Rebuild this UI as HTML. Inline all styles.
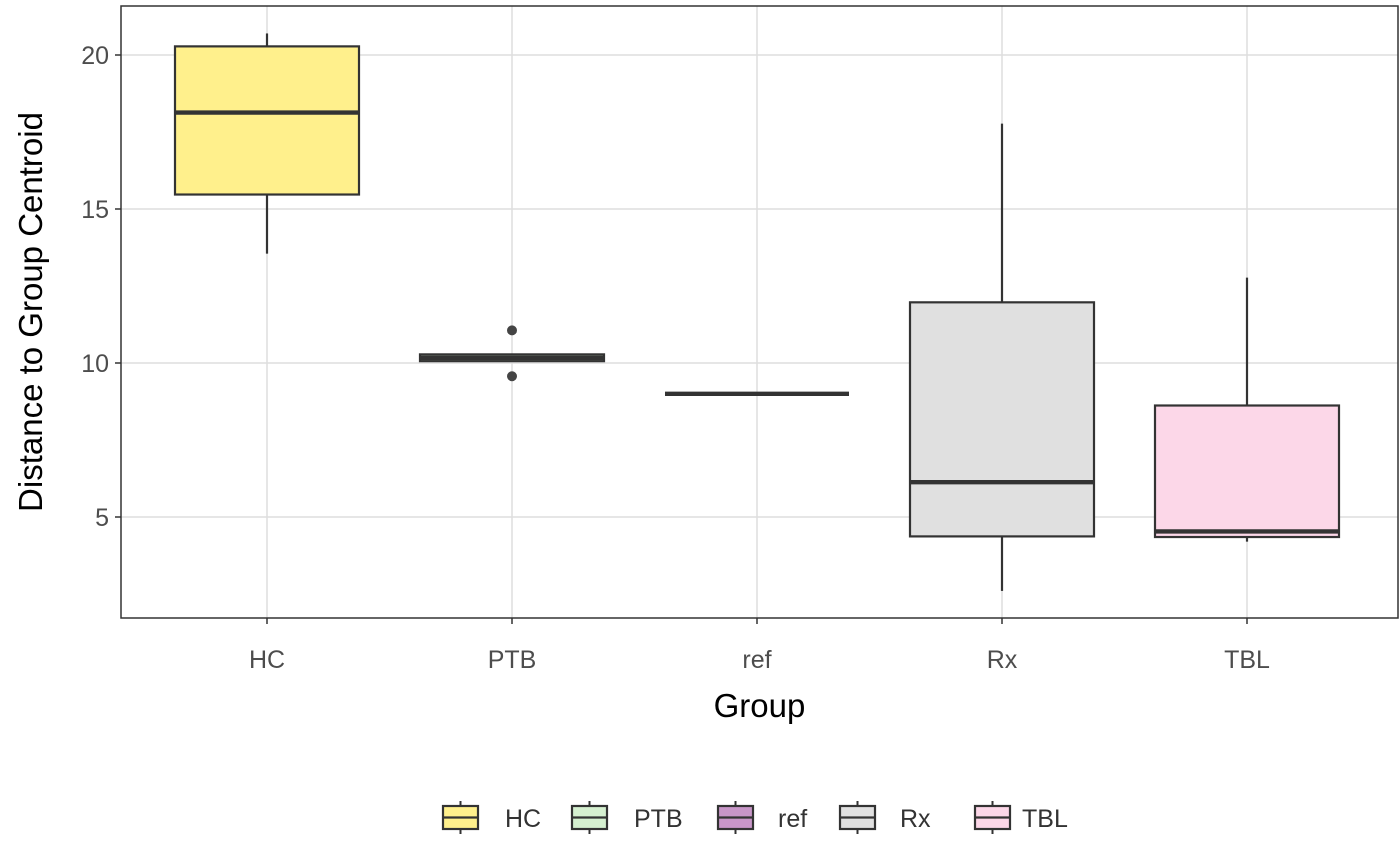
<!DOCTYPE html>
<html><head><meta charset="utf-8"><style>body{margin:0;background:#fff}svg{display:block;font-family:"Liberation Sans",Arial,sans-serif}</style></head>
<body>
<svg id="chart" width="1400" height="865" xmlns="http://www.w3.org/2000/svg"></svg>
<script>
const categories=["HC","PTB","ref","Rx","TBL"];
const colors=["#fff08c","#d5f0d0","#c896c8","#e0e0e0","#fcd7e8"];
const wLow=[13.55,10.05,9.0,2.6,4.2];
const q1=[15.47,10.06,9.0,4.37,4.35];
const med=[18.13,10.17,9.0,6.13,4.53];
const q3=[20.28,10.28,9.0,11.97,8.62];
const wHigh=[20.7,10.28,9.0,17.77,12.77];
const outliers=[[],[11.06,9.57],[],[],[]];
const yTicks=[5,10,15,20];
const legendKeyX=[443,572,718,840,975];
const legendTextX=[505,634,778,900,1022];
const NS="http://www.w3.org/2000/svg";
const svg=document.getElementById('chart');
const L=121,R=1398,T=6,B=618;
const y=v=>517-(v-5)*30.8;
const x=i=>267+i*245;
const bw=184;
function el(t,a,p){const e=document.createElementNS(NS,t);for(const k in a)e.setAttribute(k,a[k]);(p||svg).appendChild(e);return e;}
const grid=el('g',{});


yTicks.forEach(v=>el('line',{x1:L,x2:R,y1:y(v),y2:y(v),stroke:'#dedede','stroke-width':1.5},grid));
categories.forEach((c,i)=>el('line',{x1:x(i),x2:x(i),y1:T,y2:B,stroke:'#dedede','stroke-width':1.5},grid));
categories.forEach((c,i)=>{
 const g=el('g',{});
 
 
 el('line',{x1:x(i),x2:x(i),y1:y(wHigh[i]),y2:y(q3[i]),stroke:'#333','stroke-width':2.2},g);
 el('line',{x1:x(i),x2:x(i),y1:y(q1[i]),y2:y(wLow[i]),stroke:'#333','stroke-width':2.2},g);
 el('rect',{x:x(i)-bw/2,y:y(q3[i]),width:bw,height:Math.max(0,y(q1[i])-y(q3[i])),fill:colors[i],stroke:'#333','stroke-width':2.2},g);
 el('line',{x1:x(i)-bw/2,x2:x(i)+bw/2,y1:y(med[i]),y2:y(med[i]),stroke:'#333','stroke-width':4.4},g);
 outliers[i].forEach(o=>{const c2=el('circle',{cx:x(i),cy:y(o),r:5,fill:'#444'},g);
  
  });
});
el('rect',{x:L,y:T,width:R-L,height:B-T,fill:'none',stroke:'#333','stroke-width':1.5});
yTicks.forEach(v=>{el('line',{x1:L-6,x2:L,y1:y(v),y2:y(v),stroke:'#333','stroke-width':1.5});
 const t=el('text',{x:L-12,y:y(v)+9,'text-anchor':'end','font-size':25,fill:'#4d4d4d'});t.textContent=v;
 
 });
categories.forEach((c,i)=>{el('line',{x1:x(i),x2:x(i),y1:B,y2:B+6,stroke:'#333','stroke-width':1.5});
 const t=el('text',{x:x(i),y:B+50,'text-anchor':'middle','font-size':25,fill:'#4d4d4d'});t.textContent=c;
 
 });
const xt=el('text',{x:(L+R)/2,y:717,'text-anchor':'middle','font-size':33,fill:'#000'});xt.textContent='Group';


const yt=el('text',{x:0,y:0,'text-anchor':'middle','font-size':33,fill:'#000',transform:'translate(42,312) rotate(-90)'});yt.textContent='Distance to Group Centroid';


categories.forEach((c,i)=>{
 const g=el('g',{});
 
 
 const kx=legendKeyX[i];
 el('line',{x1:kx+17.5,x2:kx+17.5,y1:801,y2:834,stroke:'#333','stroke-width':2},g);
 el('rect',{x:kx,y:806,width:35,height:23,fill:colors[i],stroke:'#333','stroke-width':2.2},g);
 el('line',{x1:kx,x2:kx+35,y1:817.5,y2:817.5,stroke:'#333','stroke-width':2.2},g);
 const t=el('text',{x:legendTextX[i],y:827,'font-size':25,fill:'#333'},g);t.textContent=c;
});
</script>
</body></html>
